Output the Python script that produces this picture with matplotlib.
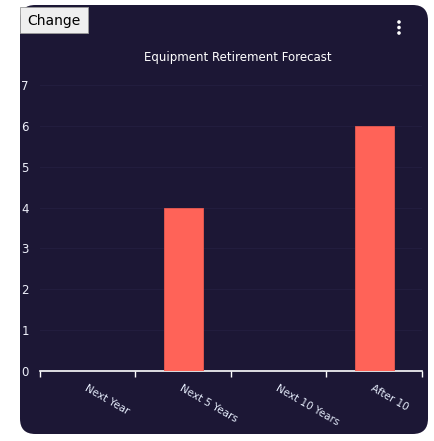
import numpy as np
import matplotlib
matplotlib.use('Agg')
import matplotlib.pyplot as plt
from matplotlib.patches import FancyBboxPatch, Rectangle

categories = ['Next Year', 'Next 5 Years', 'Next 10 Years', 'After 10']
values = [0, 4, 0, 6]
yticks = [0, 1, 2, 3, 4, 5, 6, 7]

W, H = 435, 441
bg = '#1c1735'
bar_color = '#ff6358'
txt = '#eef0fa'

plt.rcParams['font.family'] = ['DejaVu Sans']

fig = plt.figure(figsize=(W / 100, H / 100), dpi=100)
fig.patch.set_facecolor('white')

# pixel coords -> fig fraction
def fx(x):
    return x / W

def fy(y):
    return 1 - y / H

card = FancyBboxPatch((fx(20), fy(434)), fx(428) - fx(20), fy(5) - fy(434),
                      boxstyle='round,pad=0,rounding_size=0.035',
                      transform=fig.transFigure, facecolor=bg, edgecolor='none', zorder=-10)
fig.patches.append(card)

# "Change" button
btn = Rectangle((fx(20), fy(33)), fx(88) - fx(20), fy(7) - fy(33),
                transform=fig.transFigure, facecolor='#efefef', edgecolor='#9a9a9a',
                linewidth=0.6, zorder=2)
fig.patches.append(btn)
fig.text(fx(54), fy(20.5), 'Change', ha='center', va='center', fontsize=10,
         color='#000000', zorder=3)

# kebab menu
for yy in (22, 27.5, 33):
    fig.patches.append(plt.Circle((fx(399), fy(yy)), 1.8 / W, transform=fig.transFigure,
                                  facecolor='white', edgecolor='none', zorder=3))

ax = fig.add_axes([fx(40), fy(371), fx(422) - fx(40), fy(85) - fy(371)], zorder=1)
ax.set_facecolor('none')

x = np.arange(len(categories))
ax.bar(x, values, width=0.41, color=bar_color, edgecolor='#e85a50', linewidth=0.6, zorder=3)

ax.set_xlim(-0.5, len(categories) - 0.5)
ax.set_ylim(0, 7)
ax.set_yticks(yticks)
ax.set_yticklabels([str(v) for v in yticks])

for s in ['top', 'right', 'left']:
    ax.spines[s].set_visible(False)
ax.spines['bottom'].set_color('white')
ax.spines['bottom'].set_linewidth(1.2)

ax.set_xticks(x)
ax.set_xticklabels(categories, rotation=-30, ha='left', va='top',
                   rotation_mode='anchor', fontsize=7.5, color='#e4ebfa')
ax.set_xticks(np.arange(len(categories) + 1) - 0.5, minor=True)
ax.tick_params(axis='x', which='major', length=0, pad=9)
ax.tick_params(axis='x', which='minor', length=4, width=1, color='white', direction='out')
ax.tick_params(axis='y', length=0, pad=8, labelsize=8.5, labelcolor=txt)

ax.grid(axis='y', color='#221d3e', linewidth=0.8, zorder=0)
ax.set_axisbelow(True)

fig.text(fx(238), fy(58), 'Equipment Retirement Forecast', ha='center', va='center',
         fontsize=8.5, color='white')

fig.savefig('out.png', dpi=100, facecolor=fig.get_facecolor())
